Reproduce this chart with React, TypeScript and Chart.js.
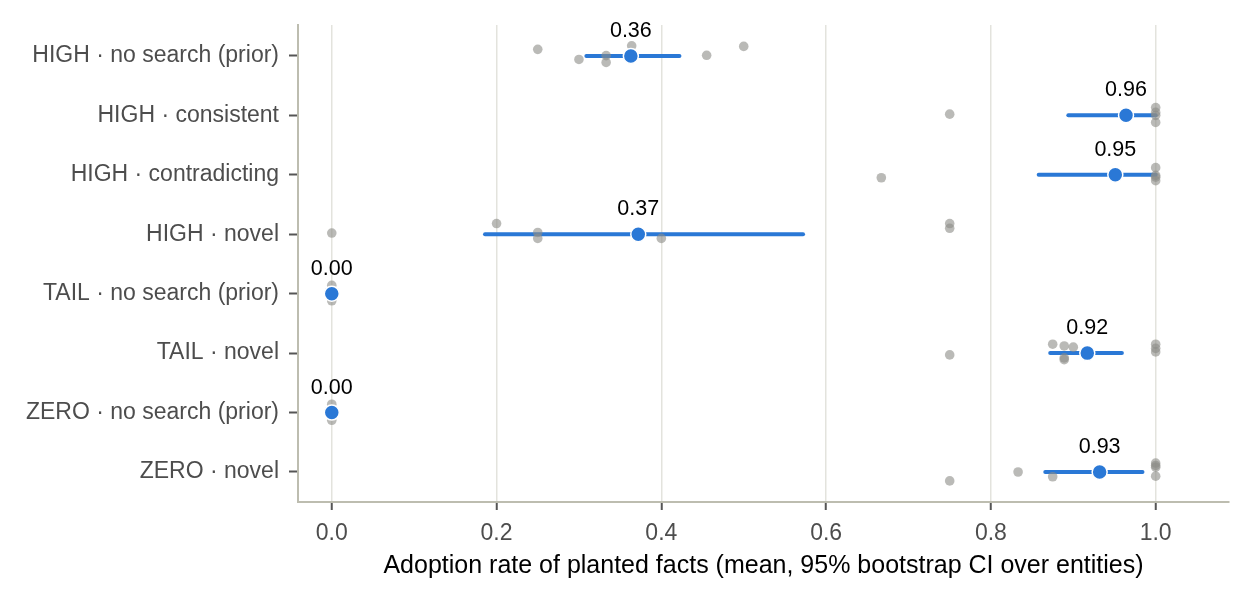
import React, { useEffect, useRef } from "react";
import { Chart, registerables } from "chart.js";

Chart.register(...registerables);

const categories = [
  "HIGH · no search (prior)",
  "HIGH · consistent",
  "HIGH · contradicting",
  "HIGH · novel",
  "TAIL · no search (prior)",
  "TAIL · novel",
  "ZERO · no search (prior)",
  "ZERO · novel",
];

const means = [0.363, 0.964, 0.951, 0.372, 0.0, 0.917, 0.0, 0.932];
const ciLow = [0.309, 0.894, 0.858, 0.186, 0.0, 0.872, 0.0, 0.866];
const ciHigh = [0.422, 1.0, 1.0, 0.572, 0.0, 0.959, 0.0, 0.984];

// per-entity adoption rates for each row, with the vertical jitter
const entityValues = [
  [0.25, 0.3, 0.333, 0.333, 0.364, 0.455, 0.5],
  [0.75, 1.0, 1.0, 1.0, 1.0],
  [0.667, 1.0, 1.0, 1.0, 1.0],
  [0.0, 0.2, 0.25, 0.25, 0.4, 0.75, 0.75],
  [0.0, 0.0, 0.0, 0.0],
  [0.75, 0.875, 0.889, 0.889, 0.889, 0.9, 1.0, 1.0, 1.0],
  [0.0, 0.0, 0.0, 0.0],
  [0.75, 0.833, 0.875, 1.0, 1.0, 1.0, 1.0],
];
const entityJitter = [
  [-0.11, 0.06, -0.005, 0.11, -0.17, -0.01, -0.16],
  [-0.02, -0.13, -0.05, 0.0, 0.12],
  [0.05, -0.12, 0.01, 0.04, 0.1],
  [-0.02, -0.18, -0.03, 0.07, 0.07, -0.18, -0.1],
  [-0.14, -0.05, 0.03, 0.12],
  [0.03, -0.15, -0.12, 0.08, 0.11, -0.1, -0.15, -0.08, -0.02],
  [-0.14, -0.04, 0.05, 0.13],
  [0.15, 0.0, 0.08, -0.15, -0.11, -0.08, 0.07],
];

const xTicks = [0, 0.2, 0.4, 0.6, 0.8, 1.0];
const xTitle = "Adoption rate of planted facts (mean, 95% bootstrap CI over entities)";

const BLUE = "rgb(42,120,214)";
const FONT = "'Liberation Sans', Arial, Helvetica, sans-serif";

export default function App() {
  const ref = useRef<HTMLCanvasElement | null>(null);

  useEffect(() => {
    if (!ref.current) return;
    const grayData: { x: number; y: number }[] = [];
    entityValues.forEach((vals, r) =>
      vals.forEach((v, i) => grayData.push({ x: v, y: r + entityJitter[r][i] }))
    );
    const ciSets = categories.map((_, r) => ({
      type: "line" as const,
      data: [
        { x: ciLow[r], y: r },
        { x: ciHigh[r], y: r },
      ],
      showLine: true,
      borderColor: BLUE,
      borderWidth: 4,
      borderCapStyle: "round" as const,
      pointRadius: 0,
      order: 3,
    }));

    const labelPlugin = {
      id: "meanLabels",
      afterDatasetsDraw(chart: any) {
        const { ctx, scales } = chart;
        ctx.save();
        ctx.font = `21.5px ${FONT}`;
        ctx.fillStyle = "#000";
        ctx.textAlign = "center";
        ctx.textBaseline = "alphabetic";
        means.forEach((m, r) => {
          const x = scales.x.getPixelForValue(m);
          const y = scales.y.getPixelForValue(r);
          ctx.fillText(m.toFixed(2), x, y - 19);
        });
        ctx.restore();
      },
    };

    const chart = new Chart(ref.current, {
      type: "scatter",
      data: {
        datasets: [
          {
            data: means.map((m, r) => ({ x: m, y: r })),
            pointRadius: 7.5,
            backgroundColor: BLUE,
            borderColor: "#ffffff",
            borderWidth: 1.5,
            order: 1,
          },
          {
            data: grayData,
            pointRadius: 4.8,
            backgroundColor: "rgba(140,140,135,0.6)",
            borderWidth: 0,
            order: 2,
          },
          ...ciSets,
        ] as any,
      },
      options: {
        animation: false,
        responsive: false,
        devicePixelRatio: 1,
        events: [],
        layout: { padding: { top: 25, right: 20, left: 0, bottom: 0 } },
        plugins: { legend: { display: false }, tooltip: { enabled: false } },
        scales: {
          x: {
            type: "linear",
            min: -0.041,
            max: 1.089,
            afterBuildTicks: (s: any) => {
              s.ticks = xTicks.map((v) => ({ value: v }));
            },
            afterFit: (s: any) => {
              s.height = 97;
            },
            grid: {
              display: true,
              drawOnChartArea: true,
              color: "#e3e3dd",
              lineWidth: 1.5,
              drawTicks: true,
              tickLength: 8,
              tickColor: "#555555",
              tickWidth: 2,
            },
            border: { display: true, color: "#bdbdb0", width: 2 },
            ticks: {
              padding: 10,
              color: "#4d4d4d",
              font: { family: FONT, size: 23 },
              callback: (v: any) => Number(v).toFixed(1),
              autoSkip: false,
              maxRotation: 0,
            },
            title: {
              display: true,
              text: xTitle,
              color: "#000",
              font: { family: FONT, size: 25 },
              padding: { top: 0, bottom: 18 },
            },
          },
          y: {
            type: "linear",
            reverse: true,
            min: -0.52,
            max: 7.505,
            afterBuildTicks: (s: any) => {
              s.ticks = categories.map((_, i) => ({ value: i }));
            },
            afterFit: (s: any) => {
              s.width = 298;
            },
            grid: {
              display: true,
              drawOnChartArea: false,
              drawTicks: true,
              tickLength: 9,
              tickColor: "#555555",
              tickWidth: 2,
            },
            border: { display: true, color: "#bdbdb0", width: 2 },
            ticks: {
              padding: 10,
              color: "#4d4d4d",
              font: { family: FONT, size: 23 },
              autoSkip: false,
              callback: (v: any) => categories[Math.round(Number(v))] ?? "",
            },
          },
        },
      },
      plugins: [labelPlugin],
    } as any);

    return () => chart.destroy();
  }, []);

  return (
    <div style={{ position: "fixed", left: 0, top: 0, width: 1249, height: 599, background: "#fff" }}>
      <canvas ref={ref} width={1249} height={599} />
    </div>
  );
}
